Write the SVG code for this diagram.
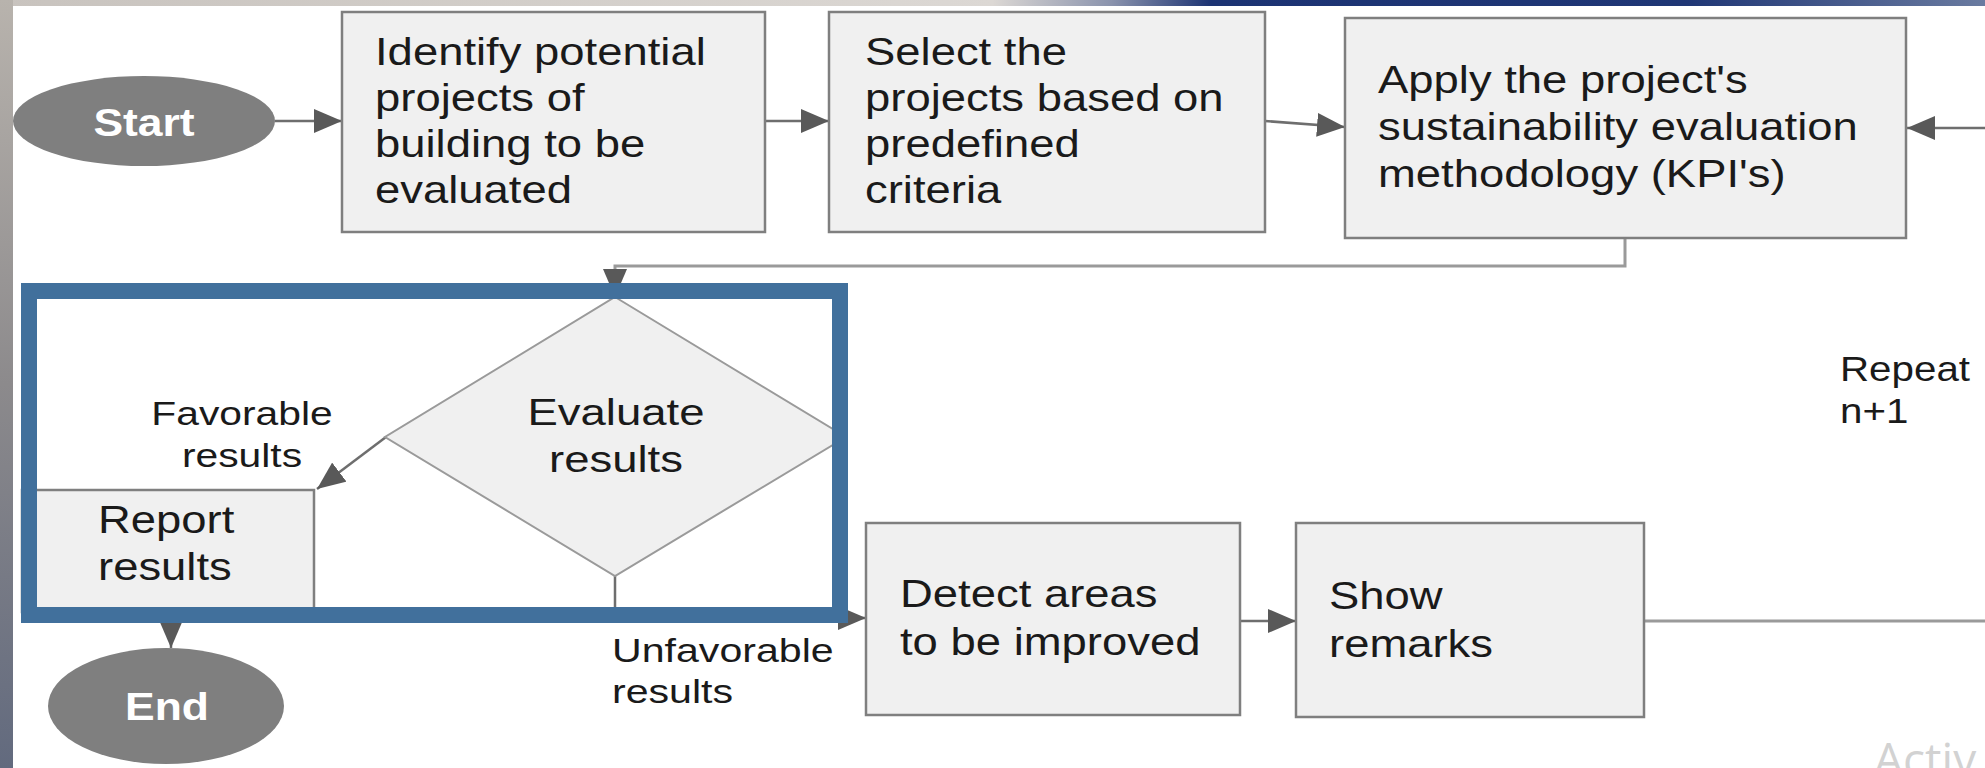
<svg xmlns="http://www.w3.org/2000/svg" width="1985" height="768" viewBox="0 0 1985 768">
<defs>
<linearGradient id="gLeft" x1="0" y1="0" x2="0" y2="1">
<stop offset="0" stop-color="#b8b3ad"/>
<stop offset="0.5" stop-color="#8c8a8c"/>
<stop offset="1" stop-color="#626a7e"/>
</linearGradient>
<linearGradient id="gTop" x1="0" y1="0" x2="1" y2="0">
<stop offset="0" stop-color="#c8c3be"/>
<stop offset="0.5" stop-color="#dcd8d4"/>
<stop offset="0.56" stop-color="#8a93ad"/>
<stop offset="0.61" stop-color="#1c3373"/>
<stop offset="0.85" stop-color="#1f3675"/>
<stop offset="1" stop-color="#6a7ba0"/>
</linearGradient>
<marker id="ah" viewBox="0 0 28 24" refX="28" refY="12" markerWidth="28" markerHeight="24" markerUnits="userSpaceOnUse" orient="auto">
<path d="M0,0 L28,12 L0,24 z" fill="#595959"/>
</marker>
<style>
.box{fill:#f0f0f0;stroke:#7f7f7f;stroke-width:2.5}
.dia{fill:#f0f0f0;stroke:#9a9a9a;stroke-width:2}
.term{fill:#7f7f7f}
.tt{font-family:"Liberation Sans",Arial,sans-serif;font-size:39px;fill:#1a1a1a}
.dt{font-family:"Liberation Sans",Arial,sans-serif;font-size:37px;fill:#1a1a1a;text-anchor:middle}
.lb{font-family:"Liberation Sans",Arial,sans-serif;font-size:34px;fill:#1a1a1a}
.term-t{font-family:"Liberation Sans",Arial,sans-serif;font-size:39px;font-weight:bold;fill:#ffffff;text-anchor:middle}
.con{fill:none;stroke:#6e6e6e;stroke-width:2.5}
.con2{fill:none;stroke:#9a9a9a;stroke-width:3}
</style>
</defs>
<rect width="1985" height="768" fill="#ffffff"/>
<rect x="0" y="0" width="1985" height="6" fill="url(#gTop)"/>
<rect x="0" y="0" width="13" height="768" fill="url(#gLeft)"/>

<g id="connectors">
<line class="con" x1="275" y1="121" x2="342" y2="121" marker-end="url(#ah)"/>
<line class="con" x1="765" y1="121" x2="829" y2="121" marker-end="url(#ah)"/>
<line class="con" x1="1265" y1="121" x2="1345" y2="127" marker-end="url(#ah)"/>
<line class="con" x1="1985" y1="128" x2="1907" y2="128" marker-end="url(#ah)"/>
<path class="con2" d="M1625,238 V266 H615 V297" marker-end="url(#ah)"/>
<line class="con" x1="386" y1="437" x2="317" y2="489" marker-end="url(#ah)"/>
<line class="con" x1="171" y1="612" x2="171" y2="648" marker-end="url(#ah)"/>
<path class="con" d="M615,576 V618 H866" marker-end="url(#ah)"/>
<line class="con" x1="1240" y1="621" x2="1296" y2="621" marker-end="url(#ah)"/>
<line class="con2" x1="1644" y1="621" x2="1985" y2="621"/>
</g>

<g id="start">
<ellipse class="term" cx="144" cy="121" rx="131" ry="45"/>
<text class="term-t" transform="translate(144 0) scale(1.14 1)" x="0" y="136">Start</text>
</g>

<g id="identify">
<rect class="box" x="342" y="12" width="423" height="220"/>
<g transform="translate(375 0) scale(1.165 1)">
<text class="tt" x="0" y="65">Identify potential</text>
<text class="tt" x="0" y="111">projects of</text>
<text class="tt" x="0" y="157">building to be</text>
<text class="tt" x="0" y="203">evaluated</text>
</g>
</g>

<g id="select">
<rect class="box" x="829" y="12" width="436" height="220"/>
<g transform="translate(865 0) scale(1.165 1)">
<text class="tt" x="0" y="65">Select the</text>
<text class="tt" x="0" y="111">projects based on</text>
<text class="tt" x="0" y="157">predefined</text>
<text class="tt" x="0" y="203">criteria</text>
</g>
</g>

<g id="apply">
<rect class="box" x="1345" y="18" width="561" height="220"/>
<g transform="translate(1378 0) scale(1.165 1)">
<text class="tt" x="0" y="93">Apply the project's</text>
<text class="tt" x="0" y="140">sustainability evaluation</text>
<text class="tt" x="0" y="187">methodology (KPI's)</text>
</g>
</g>

<g id="evaluate">
<polygon class="dia" points="615,297 846,437 615,576 385,437"/>
<g transform="translate(616 0) scale(1.23 1)">
<text class="dt" x="0" y="425">Evaluate</text>
<text class="dt" x="0" y="472">results</text>
</g>
</g>

<g id="report">
<rect class="box" x="22" y="490" width="292" height="122"/>
<g transform="translate(98 0) scale(1.165 1)">
<text class="tt" x="0" y="533">Report</text>
<text class="tt" x="0" y="580">results</text>
</g>
</g>

<g id="end">
<ellipse class="term" cx="166" cy="706" rx="118" ry="58"/>
<text class="term-t" transform="translate(167 0) scale(1.14 1)" x="0" y="720">End</text>
</g>

<g id="detect">
<rect class="box" x="866" y="523" width="374" height="192"/>
<g transform="translate(900 0) scale(1.165 1)">
<text class="tt" x="0" y="607">Detect areas</text>
<text class="tt" x="0" y="655">to be improved</text>
</g>
</g>

<g id="show">
<rect class="box" x="1296" y="523" width="348" height="194"/>
<g transform="translate(1329 0) scale(1.165 1)">
<text class="tt" x="0" y="609">Show</text>
<text class="tt" x="0" y="657">remarks</text>
</g>
</g>

<g id="labels">
<g transform="translate(242 0) scale(1.2 1)">
<text class="lb" x="0" y="425" text-anchor="middle">Favorable</text>
<text class="lb" x="0" y="467" text-anchor="middle">results</text>
</g>
<g transform="translate(612 0) scale(1.21 1)">
<text class="lb" x="0" y="662">Unfavorable</text>
<text class="lb" x="0" y="703">results</text>
</g>
<g transform="translate(1840 0) scale(1.12 1)">
<text class="lb" x="0" y="381" style="font-size:36px">Repeat</text>
<text class="lb" x="0" y="423" style="font-size:36px">n+1</text>
</g>
</g>

<g id="highlight">
<rect x="29" y="291" width="811" height="324" fill="none" stroke="#41709c" stroke-width="16"/>
</g>

<text x="1874" y="776" font-family="'Open Sans','Noto Sans',sans-serif" font-size="46" fill="#d2d2d2">Activ</text>
</svg>
